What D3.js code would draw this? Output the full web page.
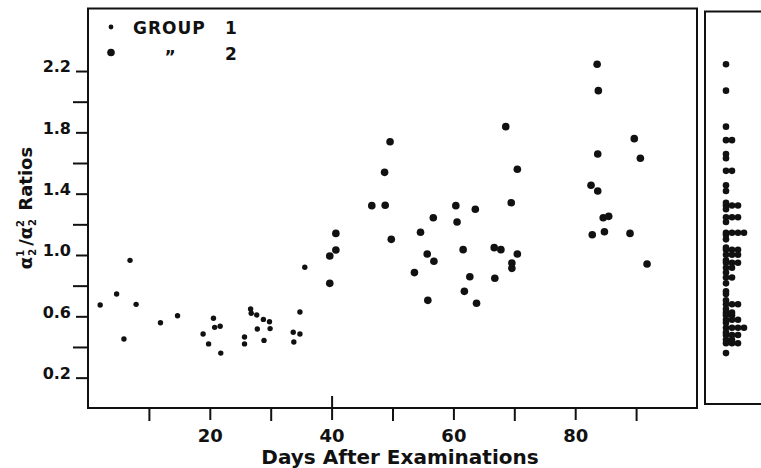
<!DOCTYPE html>
<html>
<head>
<meta charset="utf-8">
<script src="https://cdn.jsdelivr.net/npm/d3@7"></script>
<style>
  html, body { margin: 0; padding: 0; background: #fff; }
  svg { display: block; }
  text { font-family: "DejaVu Sans", sans-serif; font-weight: bold; fill: #111; }
</style>
</head>
<body>
<svg id="chart" width="761" height="468"></svg>
<script>
// ---- data ----
const group1Days   = [2.0, 4.7, 5.9, 6.9, 7.9, 11.9, 14.7, 18.9, 19.8, 20.6, 20.8, 21.7, 21.8, 25.7, 25.7, 26.7, 26.8, 27.7, 27.8, 28.8, 28.9, 29.8, 29.9, 33.7, 33.8, 34.8, 34.8, 35.6];
const group1Ratios = [0.674, 0.746, 0.452, 0.965, 0.678, 0.558, 0.604, 0.485, 0.42, 0.587, 0.528, 0.535, 0.36, 0.465, 0.42, 0.648, 0.62, 0.609, 0.517, 0.58, 0.443, 0.565, 0.52, 0.496, 0.432, 0.485, 0.628, 0.92];

const group2Days   = [39.7, 39.7, 40.7, 40.7, 46.6, 48.8, 48.7, 49.6, 49.8, 53.6, 54.6, 55.7, 55.8, 56.7, 56.8, 60.4, 60.6, 61.6, 61.8, 62.7, 63.6, 63.8, 66.7, 67.8, 66.8, 68.6, 70.5, 69.5, 70.5, 69.6, 69.6, 83.6, 83.8, 83.7, 82.6, 83.7, 84.6, 85.5, 84.8, 82.8, 89.7, 90.7, 89.0, 91.8];
const group2Ratios = [0.993, 0.815, 1.141, 1.033, 1.322, 1.324, 1.539, 1.739, 1.102, 0.885, 1.148, 1.006, 0.704, 1.243, 0.959, 1.322, 1.215, 1.035, 0.763, 0.858, 1.298, 0.685, 1.048, 1.035, 0.848, 1.837, 1.559, 1.341, 1.006, 0.948, 0.913, 2.244, 2.072, 1.659, 1.455, 1.417, 1.243, 1.252, 1.152, 1.132, 1.759, 1.631, 1.141, 0.941];

const xMajorTicks = [20, 40, 60, 80];
const xMinorTicks = [10, 30, 50, 70, 90];
const yMajorTicks = [0.2, 0.6, 1.0, 1.4, 1.8, 2.2];
const yMinorTicks = [0.4, 0.8, 1.2, 1.6, 2.0];
const xTitle = "Days After Examinations";
const legendLabels = ["GROUP", "1", "2"];

// ---- layout ----
const svg = d3.select("#chart");
const pLeft = 88, pRight = 697, pTop = 8.5, pBottom = 408;
const x = d3.scaleLinear().domain([0, 100]).range([pLeft, pRight]);
const y = d3.scaleLinear().domain([0, 2.6]).range([408.3, 9.7]);

// frame of main panel
svg.append("rect")
  .attr("x", pLeft).attr("y", pTop)
  .attr("width", pRight - pLeft).attr("height", pBottom - pTop)
  .attr("fill", "none").attr("stroke", "#111").attr("stroke-width", 2);

// x axis ticks (hang below)
const gx = svg.append("g").attr("transform", `translate(0,${pBottom})`)
  .call(d3.axisBottom(x).tickValues(xMajorTicks).tickSize(12).tickPadding(6).tickFormat(d3.format("d")));
const gxMinor = svg.append("g").attr("transform", `translate(0,${pBottom})`)
  .call(d3.axisBottom(x).tickValues(xMinorTicks).tickSize(13).tickFormat(""));
[gx, gxMinor].forEach(g => {
  g.select(".domain").remove();
  g.selectAll(".tick line").attr("stroke", "#111").attr("stroke-width", 2);
});
gx.selectAll(".tick text").attr("font-size", 18).attr("font-family", "DejaVu Sans").attr("font-weight", "bold").attr("fill", "#111").attr("dy", "0.9em");
// tall tick at 40 crossing the axis
gx.selectAll(".tick").filter(d => d === 40).select("line").attr("y1", -12);

// y axis ticks
const gy = svg.append("g").attr("transform", `translate(${pLeft},0)`)
  .call(d3.axisLeft(y).tickValues(yMajorTicks).tickSize(12).tickPadding(6).tickFormat(d3.format(".1f")));
const gyMinor = svg.append("g").attr("transform", `translate(${pLeft},0)`)
  .call(d3.axisLeft(y).tickValues(yMinorTicks).tickSize(15).tickFormat(""));
[gy, gyMinor].forEach(g => {
  g.select(".domain").remove();
  g.selectAll(".tick line").attr("stroke", "#111").attr("stroke-width", 2);
});
gy.selectAll(".tick text").attr("font-size", 16).attr("font-family", "DejaVu Sans Condensed, DejaVu Sans").attr("font-weight", "bold").attr("fill", "#111")
  .attr("dy", "0.05em").attr("x", -17);

// axis titles
svg.append("text").attr("x", 400).attr("y", 464).attr("text-anchor", "middle")
  .attr("font-size", 20).text(xTitle);

const yt = svg.append("text")
  .attr("transform", "translate(32,208) rotate(-90)")
  .attr("text-anchor", "middle").attr("font-size", 18)
  .attr("font-family", "DejaVu Sans Condensed, DejaVu Sans");
yt.append("tspan").text("α");
yt.append("tspan").attr("font-size", 10).attr("dy", -8).text("1");
yt.append("tspan").attr("font-size", 10).attr("dx", -6).attr("dy", 12).text("2");
yt.append("tspan").attr("dy", -4).attr("dx", 3).text("/");
yt.append("tspan").text("α");
yt.append("tspan").attr("font-size", 10).attr("dy", -8).text("2");
yt.append("tspan").attr("font-size", 10).attr("dx", -6).attr("dy", 12).text("2");
yt.append("tspan").attr("dy", -4).attr("dx", 2).text(" Ratios");

// points
svg.append("g").selectAll("circle").data(group1Days.map((d, i) => [d, group1Ratios[i]]))
  .join("circle").attr("cx", d => x(d[0])).attr("cy", d => y(d[1])).attr("r", 2.7).attr("fill", "#111");
svg.append("g").selectAll("circle").data(group2Days.map((d, i) => [d, group2Ratios[i]]))
  .join("circle").attr("cx", d => x(d[0])).attr("cy", d => y(d[1])).attr("r", 3.8).attr("fill", "#111");

// legend
svg.append("circle").attr("cx", 111).attr("cy", 27).attr("r", 2.4).attr("fill", "#111");
svg.append("text").attr("x", 133).attr("y", 34).attr("font-size", 17).attr("letter-spacing", 1).text(legendLabels[0]);
svg.append("text").attr("x", 225).attr("y", 34).attr("font-size", 17).text(legendLabels[1]);
svg.append("circle").attr("cx", 111).attr("cy", 52.5).attr("r", 3.8).attr("fill", "#111");
svg.append("text").attr("x", 170).attr("y", 63).attr("text-anchor", "middle").attr("font-size", 17).text("\u201D");
svg.append("text").attr("x", 225).attr("y", 60).attr("font-size", 17).text(legendLabels[2]);

// right marginal panel: distribution of all ratios
const sideLeft = 705, sideTop = 11.5, sideBottom = 404;
svg.append("rect").attr("x", sideLeft).attr("y", sideTop)
  .attr("width", 120).attr("height", sideBottom - sideTop)
  .attr("fill", "none").attr("stroke", "#111").attr("stroke-width", 2);

const allRatios = group1Ratios.concat(group2Ratios);
const binW = 0.025;
const bins = d3.groups(allRatios, v => Math.round(v / binW));
const sx = d3.scaleLinear().domain([0, 10]).range([726, 786]);
const sideDots = [];
bins.forEach(([k, vals]) => {
  const m = d3.mean(vals);
  vals.forEach((v, i) => sideDots.push({i, v: m}));
});
svg.append("g").selectAll("circle").data(sideDots).join("circle")
  .attr("cx", d => sx(d.i)).attr("cy", d => y(d.v)).attr("r", 3.3).attr("fill", "#111");
</script>
</body>
</html>
